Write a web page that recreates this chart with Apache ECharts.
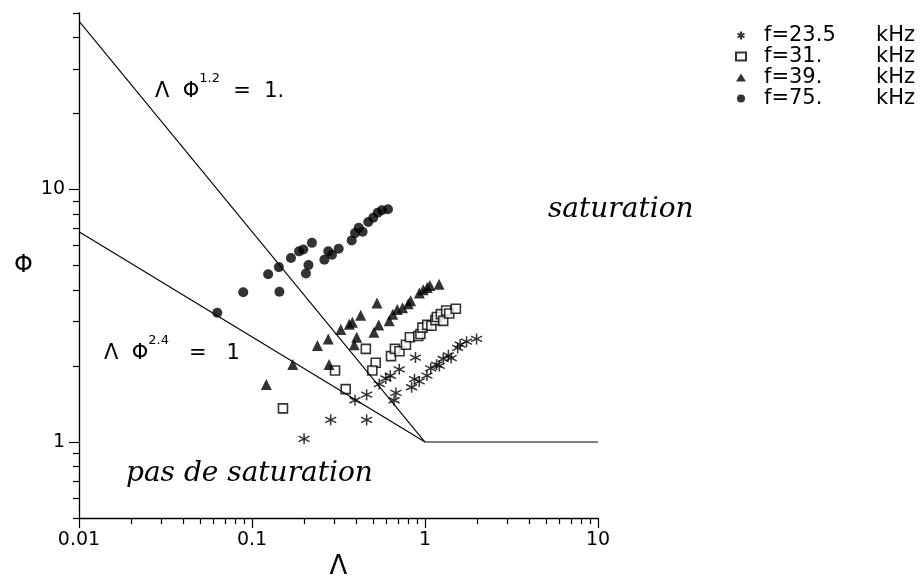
<!DOCTYPE html>
<html>
<head>
<meta charset="utf-8">
<script src="https://cdn.jsdelivr.net/npm/echarts@6/dist/echarts.min.js"></script>
<style>
  html, body { margin: 0; padding: 0; background: #fff; }
  #container1 { width: 922px; height: 585px; }
</style>
</head>
<body>
<div id="container1"></div>
<script>
// 数据 (Λ, Φ)
var lam23 = [0.2, 0.285, 0.46, 0.394, 0.46, 0.544, 0.594, 0.63, 0.71, 0.881, 0.663, 0.679, 0.837, 0.869, 0.926, 1.026, 1.079, 1.167, 1.211, 1.274, 1.365, 1.417, 1.545, 1.597, 1.739, 1.986];
var phi23 = [1.03, 1.225, 1.225, 1.464, 1.541, 1.697, 1.785, 1.83, 1.941, 2.161, 1.464, 1.565, 1.649, 1.774, 1.739, 1.834, 1.958, 2.026, 2.002, 2.132, 2.206, 2.151, 2.359, 2.432, 2.498, 2.562];

var lam31 = [0.151, 0.302, 0.348, 0.455, 0.519, 0.496, 0.636, 0.67, 0.712, 0.776, 0.818, 0.914, 0.941, 0.966, 1.03, 1.089, 1.148, 1.171, 1.235, 1.274, 1.326, 1.38, 1.508];
var phi31 = [1.36, 1.92, 1.62, 2.34, 2.06, 1.92, 2.19, 2.34, 2.29, 2.43, 2.6, 2.63, 2.68, 2.84, 2.91, 2.89, 3.04, 3.13, 3.21, 3.02, 3.32, 3.23, 3.37];

var lam39 = [0.121, 0.172, 0.239, 0.276, 0.279, 0.326, 0.365, 0.38, 0.425, 0.528, 0.39, 0.403, 0.507, 0.54, 0.621, 0.651, 0.691, 0.742, 0.8, 0.826, 0.928, 0.976, 1.03, 1.067, 1.206];
var phi39 = [1.69, 2.03, 2.41, 2.56, 2.03, 2.79, 2.93, 2.98, 3.18, 3.55, 2.43, 2.6, 2.72, 2.91, 3.02, 3.21, 3.35, 3.4, 3.53, 3.63, 3.89, 4.01, 4.09, 4.17, 4.22];

var lam75 = [0.063, 0.089, 0.124, 0.143, 0.144, 0.168, 0.187, 0.198, 0.222, 0.212, 0.205, 0.262, 0.276, 0.29, 0.317, 0.377, 0.394, 0.414, 0.436, 0.47, 0.502, 0.533, 0.564, 0.611];
var phi75 = [3.25, 3.92, 4.62, 4.93, 3.94, 5.36, 5.69, 5.79, 6.15, 5.02, 4.65, 5.27, 5.69, 5.52, 5.83, 6.29, 6.72, 7.05, 6.8, 7.44, 7.73, 8.09, 8.28, 8.36];

// 直线 Λ Φ^1.2 = 1, Λ Φ^2.4 = 1, Φ = 1
var line12 = [[0.01, 46.4], [1, 1]];
var line24 = [[0.01, 6.81], [1, 1]];
var lineSat = [[1, 1], [10, 1]];

// 刻度
var xLabels = [0.01, 0.1, 1, 10];
var xMinor = [0.02, 0.03, 0.04, 0.05, 0.06, 0.07, 0.08, 0.09, 0.2, 0.3, 0.4, 0.5, 0.6, 0.7, 0.8, 0.9, 2, 3, 4, 5, 6, 7, 8, 9];
var yLabels = [1, 10];
var yMinor = [0.5, 0.6, 0.7, 0.8, 0.9, 2, 3, 4, 5, 6, 7, 8, 9, 20, 30, 40, 50];

var seriesNames = ['f=23.5', 'f=31.', 'f=39.', 'f=75.'];

function pairs(xs, ys) {
    var out = [];
    for (var i = 0; i < xs.length; i++) {
        out.push([xs[i], ys[i]]);
    }
    return out;
}

var FONT = 'DejaVu Sans';
var SCRIPT = 'DejaVu Serif';
var asterisk = 'path://M5,0L5,10M0.67,2.5L9.33,7.5M0.67,7.5L9.33,2.5';

function Chart1_Init() {
    var myChart = echarts.init(document.getElementById('container1'));
    var axisLine = { show: true, lineStyle: { color: '#000', width: 1.3 } };
    var tickStyle = { color: '#000', width: 1.2 };

    option = {
        backgroundColor: '#fff',
        animation: false,
        grid: { left: 79, right: 324, top: 13, bottom: 58, containLabel: false },
        legend: {
            orient: 'vertical',
            left: 730,
            top: 20,
            itemGap: 0,
            itemWidth: 10,
            itemHeight: 8,
            data: seriesNames,
            formatter: function (name) {
                return '{a|' + name + '}{b|kHz}';
            },
            textStyle: {
                color: '#000',
                fontFamily: FONT,
                fontSize: 21,
                rich: {
                    a: { width: 112, padding: [0, 0, 0, 13], fontFamily: FONT, fontSize: 21, lineHeight: 26, color: '#000' },
                    b: { fontFamily: FONT, fontSize: 21, lineHeight: 26, color: '#000' }
                }
            }
        },
        xAxis: [
            {
                type: 'log', logBase: 10, min: 0.01, max: 10, position: 'bottom',
                axisLine: axisLine,
                axisTick: { show: true, customValues: xLabels, length: 10, lineStyle: tickStyle },
                axisLabel: { customValues: xLabels, margin: 12, color: '#000', fontFamily: FONT, fontSize: 19 },
                splitLine: { show: false },
                name: 'Λ', nameLocation: 'middle', nameGap: 34,
                nameTextStyle: { color: '#000', fontFamily: FONT, fontSize: 26 }
            },
            {
                type: 'log', logBase: 10, min: 0.01, max: 10, position: 'bottom',
                axisLine: { show: false },
                axisTick: { show: true, customValues: xMinor, length: 6, lineStyle: tickStyle },
                axisLabel: { show: false },
                splitLine: { show: false }
            }
        ],
        yAxis: [
            {
                type: 'log', logBase: 10, min: 0.5, max: 50, position: 'left',
                axisLine: axisLine,
                axisTick: { show: true, customValues: yLabels, length: 10, lineStyle: tickStyle },
                axisLabel: { customValues: yLabels, margin: 14, color: '#000', fontFamily: FONT, fontSize: 19 },
                splitLine: { show: false },
                name: 'Φ', nameLocation: 'middle', nameRotate: 0, nameGap: 46,
                nameTextStyle: { color: '#000', fontFamily: FONT, fontSize: 24 }
            },
            {
                type: 'log', logBase: 10, min: 0.5, max: 50, position: 'left',
                axisLine: { show: false },
                axisTick: { show: true, customValues: yMinor, length: 6, lineStyle: tickStyle },
                axisLabel: { show: false },
                splitLine: { show: false }
            }
        ],
        graphic: [
            {
                type: 'text', left: 155, top: 72,
                style: {
                    text: '{n|Λ}{n|  Φ}{s|1.2}{n|  =  1.}',
                    rich: {
                        n: { fontFamily: FONT, fontSize: 21, fill: '#000', lineHeight: 30, verticalAlign: 'bottom' },
                        s: { fontFamily: FONT, fontSize: 13, fill: '#000', lineHeight: 30, verticalAlign: 'top' }
                    }
                }
            },
            {
                type: 'text', left: 104, top: 334,
                style: {
                    text: '{n|Λ}{n|  Φ}{s|2.4}{n|   =   1}',
                    rich: {
                        n: { fontFamily: FONT, fontSize: 21, fill: '#000', lineHeight: 30, verticalAlign: 'bottom' },
                        s: { fontFamily: FONT, fontSize: 13, fill: '#000', lineHeight: 30, verticalAlign: 'top' }
                    }
                }
            },
            {
                type: 'text', left: 548, top: 196,
                style: { text: 'saturation', fontFamily: SCRIPT, fontStyle: 'italic', fontSize: 28, fill: '#000' }
            },
            {
                type: 'text', left: 126, top: 460,
                style: { text: 'pas de saturation', fontFamily: SCRIPT, fontStyle: 'italic', fontSize: 28, fill: '#000' }
            }
        ],
        series: [
            {
                name: 'f=23.5', type: 'scatter', symbol: asterisk, symbolSize: 11,
                itemStyle: { color: 'transparent', borderColor: '#000', borderWidth: 1.5 },
                data: pairs(lam23, phi23)
            },
            {
                name: 'f=31.', type: 'scatter', symbol: 'rect', symbolSize: 9,
                itemStyle: { color: '#fff', borderColor: '#000', borderWidth: 1.6 },
                data: pairs(lam31, phi31)
            },
            {
                name: 'f=39.', type: 'scatter', symbol: 'triangle', symbolSize: 11,
                itemStyle: { color: '#000' },
                data: pairs(lam39, phi39)
            },
            {
                name: 'f=75.', type: 'scatter', symbol: 'circle', symbolSize: 10,
                itemStyle: { color: '#000' },
                data: pairs(lam75, phi75)
            },
            {
                name: 'l12', type: 'line', symbol: 'none', silent: true,
                lineStyle: { color: '#000', width: 1.1 }, data: line12
            },
            {
                name: 'l24', type: 'line', symbol: 'none', silent: true,
                lineStyle: { color: '#000', width: 1.1 }, data: line24
            },
            {
                name: 'lsat', type: 'line', symbol: 'none', silent: true,
                lineStyle: { color: '#000', width: 1.1 }, data: lineSat
            }
        ]
    };
    myChart.setOption(option);
}

Chart1_Init();
</script>
</body>
</html>
